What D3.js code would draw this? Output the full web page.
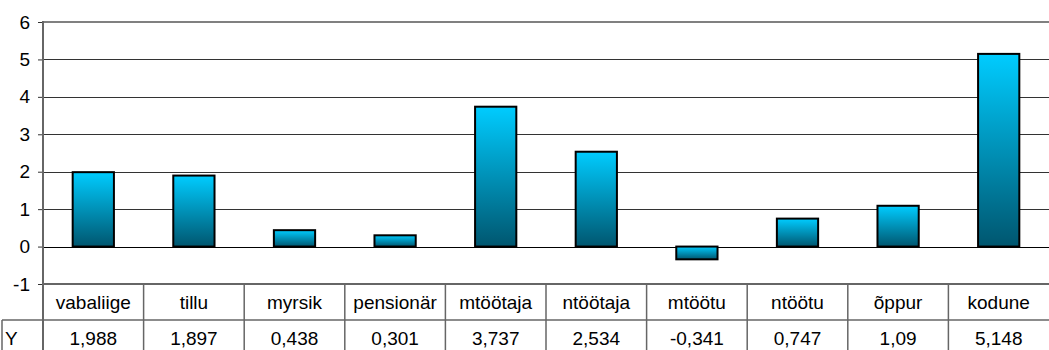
<!DOCTYPE html>
<html><head><meta charset="utf-8">
<script src="https://cdn.jsdelivr.net/npm/d3@7"></script>
<style>body{margin:0;background:#fff}svg{display:block}text{font-family:"Liberation Sans",Arial,sans-serif}</style>
</head><body>
<script>
const categories = ["vabaliige","tillu","myrsik","pensionär","mtöötaja","ntöötaja","mtöötu","ntöötu","õppur","kodune"];
const values = [1.988,1.897,0.438,0.301,3.737,2.534,-0.341,0.747,1.09,5.148];
const valueLabels = ["1,988","1,897","0,438","0,301","3,737","2,534","-0,341","0,747","1,09","5,148"];
const seriesName = "Y";
const yTicks = [-1,0,1,2,3,4,5,6];

(function(){
const W = 1049, H = 350;
const pL = 43, pR = 1049, pT = 22, pB = 284;
const svg = d3.select("body").append("svg").attr("width", W).attr("height", H);

const x = d3.scaleBand().domain(categories).range([pL, pR]).padding(0);
const y = d3.scaleLinear().domain([-1, 6]).range([pB, pT]);

const defs = svg.append("defs");
const g = defs.append("linearGradient").attr("id","bg").attr("x1",0).attr("y1",0).attr("x2",0).attr("y2",1);
g.append("stop").attr("offset","0%").attr("stop-color","#00CCFF");
g.append("stop").attr("offset","100%").attr("stop-color","#00566F");

// gridlines
svg.append("g").selectAll("line").data(yTicks.filter(d => d > -1 && d < 6)).join("line")
  .attr("x1", pL).attr("x2", pR)
  .attr("y1", d => Math.round(y(d)) + 0.5).attr("y2", d => Math.round(y(d)) + 0.5)
  .attr("stroke", d => d === 0 ? "#000" : "#333").attr("stroke-width", 1);

// top border
svg.append("line").attr("x1", pL).attr("x2", pR).attr("y1", y(6)).attr("y2", y(6))
  .attr("stroke", "#808080").attr("stroke-width", 2);

// y axis
const yAxis = d3.axisLeft(y).tickValues(yTicks).tickSize(5).tickPadding(8).tickFormat(d => String(d));
const ya = svg.append("g").attr("transform", `translate(${pL},0)`).call(yAxis);
ya.select(".domain").remove();
ya.selectAll(".tick line").attr("stroke", "#333");
ya.selectAll(".tick text").attr("font-size", 19).attr("fill", "#000")
  .attr("font-family", '"Liberation Sans",Arial,sans-serif');
svg.append("line").attr("x1", pL).attr("x2", pL).attr("y1", pT - 1).attr("y2", H)
  .attr("stroke", "#666").attr("stroke-width", 2);

// bars
const bw = x.bandwidth() * 0.41;
svg.append("g").selectAll("rect").data(values).join("rect")
  .attr("x", (d, i) => x(categories[i]) + (x.bandwidth() - bw) / 2)
  .attr("y", d => y(Math.max(0, d)))
  .attr("width", bw)
  .attr("height", d => Math.abs(y(d) - y(0)))
  .attr("fill", "url(#bg)").attr("stroke", "#000").attr("stroke-width", 2);

// data table
const rowH = 36;
const t = svg.append("g");
const lc = "#666";
t.append("line").attr("x1", pL).attr("x2", pR).attr("y1", pB).attr("y2", pB).attr("stroke", lc).attr("stroke-width", 2);
t.append("line").attr("x1", 2).attr("x2", pR).attr("y1", pB + rowH).attr("y2", pB + rowH).attr("stroke", lc).attr("stroke-width", 1.5);
t.append("line").attr("x1", 2).attr("x2", 2).attr("y1", pB + rowH).attr("y2", H).attr("stroke", lc).attr("stroke-width", 1.5);
t.selectAll("line.v").data(categories.slice(1)).join("line").attr("class","v")
  .attr("x1", d => x(d)).attr("x2", d => x(d)).attr("y1", pB).attr("y2", H)
  .attr("stroke", lc).attr("stroke-width", 1.5);
t.selectAll("text.c").data(categories).join("text").attr("class","c")
  .attr("x", d => x(d) + x.bandwidth() / 2).attr("y", pB + rowH / 2 + 7)
  .attr("text-anchor", "middle").attr("font-size", 19).text(d => d);
t.selectAll("text.v").data(valueLabels).join("text").attr("class","v")
  .attr("x", (d, i) => x(categories[i]) + x.bandwidth() / 2).attr("y", pB + rowH + rowH / 2 + 7)
  .attr("text-anchor", "middle").attr("font-size", 19).text(d => d);
t.append("text").attr("x", 5).attr("y", pB + rowH + rowH / 2 + 7).attr("font-size", 19).text(seriesName);
})();
</script>
</body></html>
